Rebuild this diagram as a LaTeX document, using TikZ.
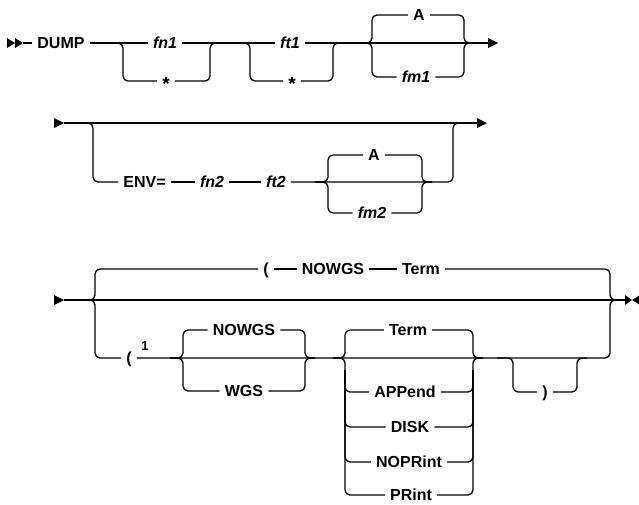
\documentclass[tikz,border=0pt]{standalone}
\usepackage{fontspec}
\setmainfont{Liberation Sans}
\begin{document}
\begin{tikzpicture}[x=1pt,y=-1pt,
  rr/.style={line width=1.3pt, rounded corners=5pt},
  kw/.style={font=\fontsize{16}{19}\selectfont\bfseries, text height=11.4pt, text depth=0pt, inner xsep=5pt, inner ysep=0pt},
  var/.style={kw, font=\fontsize{16}{19}\selectfont\bfseries\itshape},
  star/.style={kw, font=\fontsize{19}{22}\selectfont\bfseries},
  sup/.style={font=\fontsize{13}{15}\selectfont\bfseries, inner sep=0pt}]
\useasboundingbox (0,0) rectangle (639,504);

% ---------- Row 1 ----------
\coordinate (s1) at (23,43);
\coordinate (e1) at (490,43);
\fill (7,38) -- (15,43) -- (7,48) -- cycle;
\fill (15,38) -- (23,43) -- (15,48) -- cycle;
\node[kw] (dump) at (61,43) {DUMP};
\node[var] (fn1) at (165,43) {fn1};
\node[star] (st1) at (166,81) {\raisebox{-4pt}{*}};
\node[var] (ft1) at (290,43) {ft1};
\node[star] (st2) at (292,81) {\raisebox{-4pt}{*}};
\node[kw] (a1) at (419,15) {A};
\node[var] (fm1) at (416,77) {fm1};

\draw[rr] (s1) -- (dump.west);
\draw[rr] (dump.east) -- (fn1.west);
\draw[rr] (fn1.east) -- (ft1.west);
\draw[rr] (ft1.east) -- (e1);
\fill (488,38) -- (498,43) -- (488,48) -- cycle;

\draw[rr] (108,43) -| (123,81) -- (st1.west);
\draw[rr] (st1.east) -| (210,43) -- (220,43);
\draw[rr] (233,43) -| (250,81) -- (st2.west);
\draw[rr] (st2.east) -| (333,43) -- (343,43);
\draw[rr] (360,43) -| (372,15) -- (a1.west);
\draw[rr] (a1.east) -| (464,43) -- (474,43);
\draw[rr] (360,43) -| (372,77) -- (fm1.west);
\draw[rr] (fm1.east) -| (464,43) -- (474,43);

% ---------- Row 2 ----------
\coordinate (s2) at (64,123);
\coordinate (e2) at (479,123);
\fill (54,118) -- (64,123) -- (54,128) -- cycle;
\draw[rr] (s2) -- (e2);
\fill (477,118) -- (487,123) -- (477,128) -- cycle;
\node[kw] (env) at (144.5,182) {ENV=};
\node[var] (fn2) at (212,182) {fn2};
\node[var] (ft2) at (276,182) {ft2};
\node[kw] (a2) at (374,155) {A};
\node[var] (fm2) at (372,213) {fm2};

\draw[rr] (78,123) -| (93,182) -- (env.west);
\draw[rr] (env.east) -- (fn2.west);
\draw[rr] (fn2.east) -- (ft2.west);
\draw[rr] (ft2.east) -- (430,182) -| (453,123) -- (463,123);
\draw[rr] (315,182) -| (328,155) -- (a2.west);
\draw[rr] (a2.east) -| (422,182) -- (432,182);
\draw[rr] (315,182) -| (328,213) -- (fm2.west);
\draw[rr] (fm2.east) -| (422,182) -- (432,182);

% ---------- Row 3 ----------
\coordinate (s3) at (64,300);
\coordinate (e3) at (626,300);
\fill (54,295) -- (64,300) -- (54,305) -- cycle;
\draw[rr] (s3) -- (e3);
\fill (625,295) -- (632,300) -- (625,305) -- cycle;
\fill (640,295) -- (632,300) -- (640,305) -- cycle;

\node[kw] (lp1) at (266,269) {(};
\node[kw] (nw1) at (333,269) {NOWGS};
\node[kw] (tm1) at (421,269) {Term};
\node[kw] (lp2) at (129,358) {(};
\node[sup] (one) at (145,346) {1};
\node[kw] (nw2) at (244,330) {NOWGS};
\node[kw] (wgs) at (244,391) {WGS};
\node[kw] (tm2) at (408,330) {Term};
\node[kw] (app) at (405,392) {APPend};
\node[kw] (disk) at (410,427) {DISK};
\node[kw] (nopr) at (409,462) {NOPRint};
\node[kw] (prt) at (411,495) {PRint};
\node[kw] (rp) at (545,392) {)};

\draw[rr] (80,300) -| (95,269) -- (lp1.west);
\draw[rr] (lp1.east) -- (nw1.west);
\draw[rr] (nw1.east) -- (tm1.west);
\draw[rr] (tm1.east) -| (610,300) -- (620,300);
\draw[rr] (80,300) -| (95,358) -- (lp2.west);
\draw[rr] (lp2.east) -- (595,358) -| (610,300) -- (620,300);

\draw[rr] (170,358) -| (183,330) -- (nw2.west);
\draw[rr] (nw2.east) -| (305,358) -- (315,358);
\draw[rr] (170,358) -| (183,391) -- (wgs.west);
\draw[rr] (wgs.east) -| (305,358) -- (315,358);

\draw[rr] (333,358) -| (345,330) -- (tm2.west);
\draw[rr] (tm2.east) -| (473,358) -- (483,358);
\draw[rr] (333,358) -| (345,495) -- (prt.west);
\draw[rr] (prt.east) -| (473,358) -- (483,358);
\draw[rr] (345,370) |- (app.west);
\draw[rr] (app.east) -| (473,370);
\draw[rr] (345,370) |- (disk.west);
\draw[rr] (disk.east) -| (473,370);
\draw[rr] (345,370) |- (nopr.west);
\draw[rr] (nopr.east) -| (473,370);

\draw[rr] (497,358) -| (513,392) -- (rp.west);
\draw[rr] (rp.east) -| (577,358) -- (587,358);
\end{tikzpicture}
\end{document}
